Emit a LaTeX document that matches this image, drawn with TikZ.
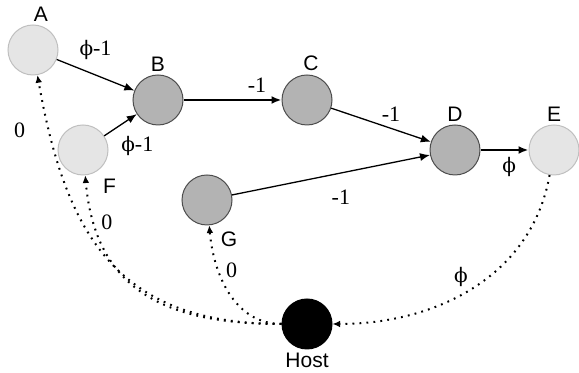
\documentclass[tikz,border=0pt]{standalone}
\usepackage{amsmath}
\usepackage{fontspec}
\setmainfont{Liberation Serif}
\newfontfamily\namefont{Liberation Sans}
\newfontfamily\phifont{DejaVu Serif}
\usetikzlibrary{arrows.meta}

\definecolor{idlegray}{HTML}{E5E5E5}
\definecolor{busygray}{HTML}{B3B3B3}
\newcommand{\ph}{{\phifont\fontsize{10}{12}\selectfont ϕ}}

\tikzset{
  peer/.style={circle,minimum size=25pt,inner sep=0pt,line width=0.5pt},
  idle/.style={peer,draw=black!25,fill=idlegray},
  busy/.style={peer,draw=black!70,fill=busygray},
  hostnode/.style={peer,draw=black,fill=black},
  back/.style={dash pattern=on 0.9pt off 2.6pt,line width=1pt,
    -{Latex[length=3.8pt,width=3.4pt]}},
  main/.style={line width=1pt},
}

\begin{document}
\begin{tikzpicture}[->,>={Latex[length=5pt,width=4pt]},auto,x=0.5pt,y=0.5pt,
  line width=0.65pt,font=\rmfamily\fontsize{11}{13}\selectfont,
  every label/.style={font=\namefont\fontsize{10.5}{12}\selectfont},
  label distance=-2pt]

\useasboundingbox (0,0) rectangle (579,-373);

\node[idle,label={[xshift=4pt]above:A}] (A) at (33,-50) {};
\node[busy,label=above:B] (B) at (158,-100) {};
\node[busy,label={[xshift=2pt]above:C}] (C) at (307,-100) {};
\node[busy,label=above:D] (D) at (455,-150) {};
\node[idle,label=above:E] (E) at (554,-150) {};
\node[idle,label={[anchor=north west,label distance=0pt]-60:F}] (F) at (83,-150) {};
\node[busy,label={[anchor=north west,label distance=0pt]-75:G}] (G) at (207,-200) {};
\node[hostnode,label=below:Host] (h) at (307,-324) {};

\path (A) edge node[above=4pt] {\ph-1} (B)
  (F) edge node[below right,pos=0.3] {\ph-1} (B)
  (B) edge[main] node[pos=0.75] {-1} (C)
  (C) edge node[above,pos=0.6] {-1} (D)
  (G) edge node[below=5pt,pos=0.55] {-1} (D)
  (D) edge[main] node[below,pos=0.6] {\ph} (E);

\path (h) edge[back,out=180,in=-80,looseness=1.2] node[left=8pt,pos=0.88] {0} (A)
  (h) edge[back,out=180,in=-85,looseness=1.2] node[right,pos=0.85] {0} (F)
  (h) edge[back,out=180,in=-85] node[right,pos=0.68] {0} (G)
  (E) edge[back,out=-100,in=0] node[above,pos=0.55] {\ph} (h);

\end{tikzpicture}
\end{document}
